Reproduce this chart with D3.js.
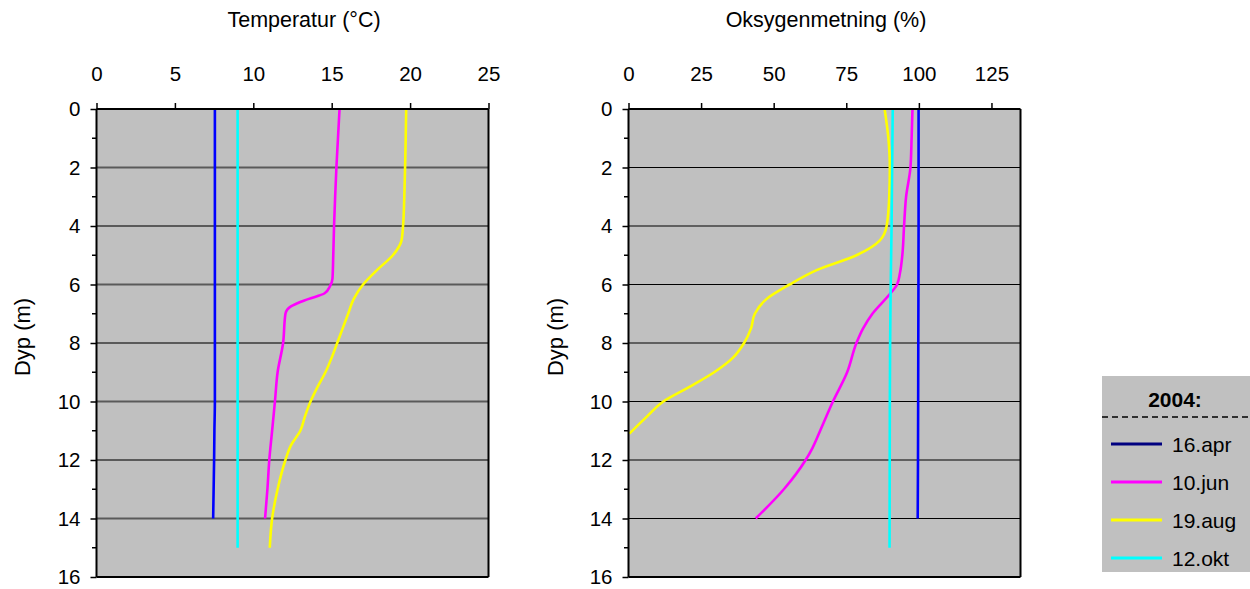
<!DOCTYPE html>
<html>
<head>
<meta charset="utf-8">
<script src="https://cdn.jsdelivr.net/npm/d3@7"></script>
<style>
html,body{margin:0;padding:0;background:#fff;}
svg{display:block;}
text{font-family:"Liberation Sans", Arial, sans-serif;fill:#000;}
</style>
</head>
<body>
<svg id="chart" width="1250" height="589"></svg>
<script>
// ---------- data ----------
const seriesNames = ["16.apr", "10.jun", "19.aug", "12.okt"];
const legendTitle = "2004:";
const tempTitle = "Temperatur (°C)";
const oxyTitle = "Oksygenmetning (%)";
const depthLabel = "Dyp (m)";
const tempTicks = [0, 5, 10, 15, 20, 25];
const oxyTicks = [0, 25, 50, 75, 100, 125];
const depthTicks = [0, 2, 4, 6, 8, 10, 12, 14, 16];
const depthMinorTicks = [1, 3, 5, 7, 9, 11, 13, 15];

// Temperature (°C)
const tAprDepth = [0, 2, 4, 6, 8, 10, 11, 12, 13, 14];
const tAprVal   = [7.55, 7.55, 7.55, 7.55, 7.55, 7.55, 7.52, 7.5, 7.47, 7.44];
const tJunDepth = [0, 1, 2, 3, 4, 5, 5.8, 6.05, 6.3, 6.5, 6.75, 7, 8, 9, 10, 11, 12, 13, 14];
const tJunVal   = [15.5, 15.4, 15.3, 15.22, 15.15, 15.1, 15.05, 14.9, 14.55, 13.5, 12.4, 12.05, 11.9, 11.55, 11.38, 11.2, 11.02, 10.9, 10.75];
const tAugDepth = [0, 1, 2, 3, 4, 4.5, 5, 5.5, 6, 6.5, 7, 7.5, 8, 8.5, 9, 9.5, 10, 10.5, 11, 11.5, 12, 13, 14, 15];
const tAugVal   = [19.75, 19.72, 19.68, 19.63, 19.55, 19.45, 18.9, 17.9, 17.0, 16.4, 16.05, 15.7, 15.35, 15.0, 14.6, 14.1, 13.65, 13.3, 13.0, 12.4, 12.05, 11.55, 11.2, 11.05];
const tOktDepth = [0, 5, 10, 15];
const tOktVal   = [9.0, 9.0, 9.0, 9.0];

// Oxygen saturation (%)
const oAprDepth = [0, 4, 8, 12, 14];
const oAprVal   = [99.9, 99.9, 99.8, 99.7, 99.6];
const oJunDepth = [0, 1, 2, 3, 4, 5, 5.6, 6, 6.35, 7, 7.5, 8, 9, 10, 11, 11.6, 12, 13, 14];
const oJunVal   = [97.8, 97.5, 97.1, 95.6, 94.9, 94.3, 93.5, 92.5, 89.8, 84, 80.8, 78.5, 75.3, 70.4, 66, 63.3, 61, 53.5, 43.8];
const oAugDepth = [0, 1, 2, 3, 4, 4.5, 5, 5.5, 6, 6.5, 7, 7.5, 8, 8.5, 9, 9.5, 10, 10.5, 11.1];
const oAugVal   = [88.2, 89.5, 90.0, 89.8, 88.9, 86.5, 78.5, 65, 55.5, 47.5, 43.5, 42.2, 39.8, 36, 29.5, 21, 12, 6.5, 0.3];
const oOktDepth = [0, 2, 4, 6, 8, 10, 15];
const oOktVal   = [91, 90.8, 90.6, 90.3, 90.1, 90.0, 89.9];

const lineColors = ["#0000ff", "#ff00ff", "#ffff00", "#00ffff"];
const legendColors = ["#000080", "#ff00ff", "#ffff00", "#00ffff"];

// ---------- drawing ----------
const svg = d3.select("#chart");
const FS = 20.5;
const FS_T = 21.5;
const yTop = 109, yBottom = 577;
const y = d3.scaleLinear().domain([0, 16]).range([yTop, yBottom]);

function zip(d, v) { return d.map((dd, i) => ({depth: dd, val: v[i]})); }

function panel(cfg) {
  const x = d3.scaleLinear().domain(cfg.domain).range([cfg.x0, cfg.x1]);
  const g = svg.append("g");
  g.append("rect").attr("x", cfg.x0).attr("y", yTop)
    .attr("width", cfg.x1 - cfg.x0).attr("height", yBottom - yTop)
    .attr("fill", "#c0c0c0");
  g.append("g").selectAll("line").data(depthTicks.filter(d => d > 0 && d < 16)).join("line")
    .attr("x1", cfg.x0).attr("x2", cfg.x1)
    .attr("y1", d => y(d)).attr("y2", d => y(d))
    .attr("stroke", cfg.gridColor).attr("stroke-width", cfg.gridWidth);
  const line = d3.line().x(d => x(d.val)).y(d => y(d.depth)).curve(d3.curveMonotoneY);
  cfg.series.forEach((s, i) => {
    g.append("path").datum(s).attr("d", line)
      .attr("fill", "none").attr("stroke", lineColors[i])
      .attr("stroke-width", 2.6).attr("stroke-linejoin", "round");
  });
  g.append("line").attr("x1", cfg.x1).attr("x2", cfg.x1).attr("y1", yTop).attr("y2", yBottom)
    .attr("stroke", "#000").attr("stroke-width", 2);
  g.append("line").attr("x1", cfg.x0).attr("x2", cfg.x1).attr("y1", yBottom).attr("y2", yBottom)
    .attr("stroke", "#000").attr("stroke-width", 2);
  const xa = d3.axisTop(x).tickValues(cfg.ticks).tickSize(6).tickPadding(22).tickSizeOuter(0);
  const gx = g.append("g").attr("transform", `translate(0,${yTop})`).call(xa);
  gx.select(".domain").remove();
  gx.append("line").attr("x1", cfg.x0).attr("x2", cfg.x1).attr("y1", 0).attr("y2", 0)
    .attr("stroke", "#000").attr("stroke-width", 2);
  gx.selectAll(".tick line").attr("stroke", "#000").attr("stroke-width", 1.5);
  gx.selectAll(".tick text").attr("font-size", FS).attr("font-family", "Liberation Sans, Arial, sans-serif").attr("fill", "#000");
  const ya = d3.axisLeft(y).tickValues(depthTicks).tickSize(6).tickPadding(10).tickSizeOuter(0);
  const gy = g.append("g").attr("transform", `translate(${cfg.x0},0)`).call(ya);
  gy.select(".domain").remove();
  gy.append("line").attr("x1", 0).attr("x2", 0).attr("y1", yTop).attr("y2", yBottom)
    .attr("stroke", "#000").attr("stroke-width", 2);
  gy.selectAll(".tick line").attr("stroke", "#000").attr("stroke-width", 1.5);
  gy.selectAll(".tick text").attr("font-size", FS).attr("font-family", "Liberation Sans, Arial, sans-serif").attr("fill", "#000");
  gy.append("g").selectAll("line").data(depthMinorTicks).join("line")
    .attr("x1", -4.5).attr("x2", 0).attr("y1", d => y(d)).attr("y2", d => y(d))
    .attr("stroke", "#000").attr("stroke-width", 1.5);
  svg.append("text").attr("x", cfg.titleX).attr("y", 27).attr("text-anchor", "middle")
    .attr("font-size", FS_T).text(cfg.title);
  svg.append("text").attr("transform", `translate(${cfg.ylabX},${(yTop + yBottom) / 2 - 6}) rotate(-90)`)
    .attr("text-anchor", "middle").attr("dominant-baseline", "central")
    .attr("font-size", 22).text(depthLabel);
}

panel({
  domain: [0, 25], x0: 96.5, x1: 488.5, ticks: tempTicks, title: tempTitle, titleX: 304, ylabX: 22,
  gridColor: "#5a5a5a", gridWidth: 2,
  series: [zip(tAprDepth, tAprVal), zip(tJunDepth, tJunVal), zip(tAugDepth, tAugVal), zip(tOktDepth, tOktVal)]
});
panel({
  domain: [0, 135], x0: 628.5, x1: 1020.5, ticks: oxyTicks, title: oxyTitle, titleX: 826, ylabX: 555,
  gridColor: "#000", gridWidth: 1.2,
  series: [zip(oAprDepth, oAprVal), zip(oJunDepth, oJunVal), zip(oAugDepth, oAugVal), zip(oOktDepth, oOktVal)]
});

// legend
const lg = svg.append("g");
lg.append("rect").attr("x", 1102).attr("y", 376).attr("width", 160).attr("height", 196).attr("fill", "#c0c0c0");
lg.append("text").attr("x", 1175).attr("y", 407).attr("text-anchor", "middle")
  .attr("font-size", 21).attr("font-weight", "bold").text(legendTitle);
lg.append("line").attr("x1", 1102).attr("x2", 1250).attr("y1", 417).attr("y2", 417)
  .attr("stroke", "#000").attr("stroke-width", 1.5).attr("stroke-dasharray", "6,4");
const ly = d3.scalePoint().domain(seriesNames).range([444, 558]);
seriesNames.forEach((n, i) => {
  lg.append("line").attr("x1", 1111).attr("x2", 1162).attr("y1", ly(n)).attr("y2", ly(n))
    .attr("stroke", legendColors[i]).attr("stroke-width", 3);
  lg.append("text").attr("x", 1172).attr("y", ly(n)).attr("dominant-baseline", "central")
    .attr("font-size", 21).text(n);
});
</script>
</body>
</html>
